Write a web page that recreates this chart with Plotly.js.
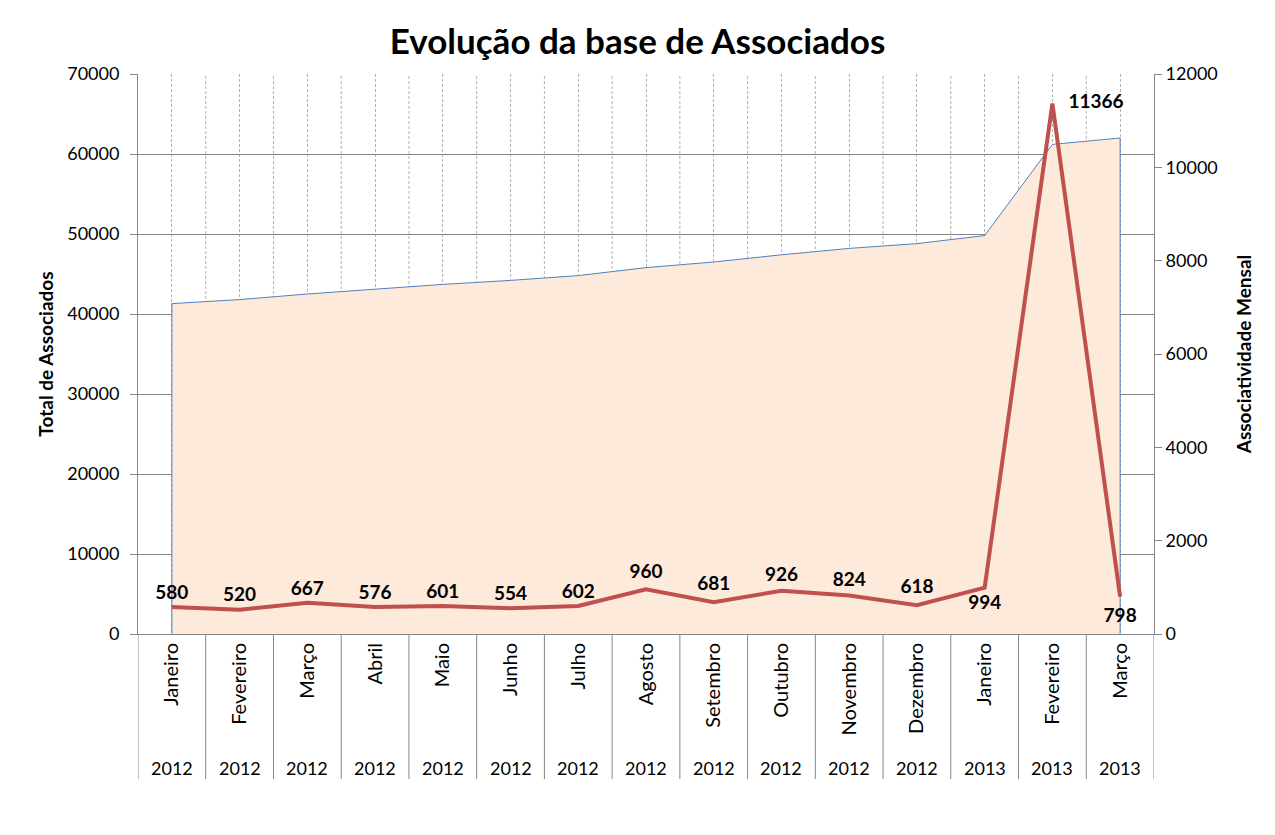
<!DOCTYPE html>
<html>
<head>
<meta charset="utf-8">
<script src="https://cdn.plot.ly/plotly-3.0.1.min.js"></script>
<style>
  body { margin: 0; background: #fff; }
  #chart { width: 1275px; height: 835px; }
</style>
</head>
<body>
<div id="chart"></div>
<script>
// Categories (month + year, two-row axis)
const months = ['Janeiro', 'Fevereiro', 'Março', 'Abril', 'Maio', 'Junho', 'Julho',
    'Agosto', 'Setembro', 'Outubro', 'Novembro', 'Dezembro', 'Janeiro', 'Fevereiro', 'Março'];
const years = ['2012', '2012', '2012', '2012', '2012', '2012', '2012',
    '2012', '2012', '2012', '2012', '2012', '2013', '2013', '2013'];

// Total de Associados (left axis, area)
const totalAssociados = [41300, 41800, 42500, 43100, 43700, 44200, 44800,
    45800, 46500, 47400, 48200, 48800, 49800, 61200, 62000];

// Associatividade Mensal (right axis, line)
const associatividadeMensal = [580, 520, 667, 576, 601, 554, 602,
    960, 681, 926, 824, 618, 994, 11366, 798];

// Where each data label sits relative to its point, and how far off (invisible marker size)
const labelPositions = ['top center', 'top center', 'top center', 'top center', 'top center',
    'top center', 'top center', 'top center', 'top center', 'top center', 'top center',
    'top center', 'bottom center', 'middle right', 'bottom center'];
const labelGaps = [4, 4, 4, 4, 4, 4, 4, 8, 10, 6, 6, 10, 10, 24, 16];

const FONT = 'Lato, "Open Sans", sans-serif';
const GRID = '#868686';

// Unique category keys, since month names repeat across years
const xKeys = months.map((m, i) => m + ' ' + years[i]);
const last = xKeys.length - 1;

// Closed polygon so the outline also draws the vertical edges
const area = {
    x: [xKeys[0]].concat(xKeys, [xKeys[last]]),
    y: [0].concat(totalAssociados, [0]),
    type: 'scatter',
    mode: 'lines',
    fill: 'toself',
    fillcolor: '#FDEADA',
    line: { color: '#4F81BD', width: 1 },
    hoverinfo: 'skip'
};

const monthly = {
    x: xKeys,
    y: associatividadeMensal,
    yaxis: 'y2',
    type: 'scatter',
    mode: 'lines+markers+text',
    marker: { size: labelGaps, color: 'rgba(0,0,0,0)', line: { width: 0, color: 'rgba(0,0,0,0)' } },
    text: associatividadeMensal.map(String),
    textposition: labelPositions,
    textfont: { family: FONT, size: 19, color: '#000', weight: 'bold' },
    line: { color: '#C0504D', width: 4 },
    cliponaxis: false
};

// Year labels under the month labels
const yearAnnotations = years.map((yr, i) => ({
    x: xKeys[i],
    xref: 'x',
    y: -0.239,
    yref: 'paper',
    yanchor: 'middle',
    text: yr,
    showarrow: false,
    font: { family: FONT, size: 18, color: '#000' }
}));

// Category dividers: dashed inside the plot, solid through the label table
let shapes = [];
for (let i = 0; i <= xKeys.length; i++) {
    shapes.push({
        type: 'line', xref: 'x', yref: 'paper',
        x0: i - 0.5, x1: i - 0.5, y0: -0.259, y1: 0,
        line: { color: GRID, width: 1 }
    });
    if (i > 0 && i < xKeys.length) {
        shapes.push({
            type: 'line', xref: 'x', yref: 'paper', layer: 'below',
            x0: i - 0.5, x1: i - 0.5, y0: 0, y1: 1,
            line: { color: '#b3b3b3', width: 1, dash: '3px,2px' }
        });
    }
}

const layout = {
    width: 1275,
    height: 835,
    font: { family: FONT, color: '#000' },
    paper_bgcolor: '#fff',
    plot_bgcolor: '#fff',
    showlegend: false,
    title: {
        text: 'Evolução da base de Associados',
        font: { family: FONT, size: 35, weight: 'bold', color: '#000' },
        x: 0.5,
        xref: 'container',
        y: 0.95,
        yanchor: 'middle'
    },
    margin: { l: 138, r: 121, t: 74, b: 201 },
    xaxis: {
        type: 'category',
        range: [-0.5, 14.5],
        tickvals: xKeys,
        ticktext: months,
        tickangle: -90,
        tickfont: { family: FONT, size: 20, color: '#000' },
        ticks: '',
        showgrid: true,
        gridcolor: '#b3b3b3',
        griddash: '3px,2px',
        gridwidth: 1,
        showline: true,
        linecolor: GRID,
        zeroline: false,
        fixedrange: true
    },
    yaxis: {
        range: [0, 70000],
        dtick: 10000,
        tickformat: 'd',
        showgrid: true,
        gridcolor: GRID,
        showline: true,
        linecolor: GRID,
        ticks: 'outside',
        ticklen: 7,
        tickcolor: GRID,
        ticklabelstandoff: 7,
        zeroline: false,
        tickfont: { family: FONT, size: 18, color: '#000' },
        title: {
            text: 'Total de Associados',
            font: { family: FONT, size: 19, weight: 'bold', color: '#000' },
            standoff: 8
        }
    },
    yaxis2: {
        overlaying: 'y',
        side: 'right',
        range: [0, 12000],
        dtick: 2000,
        tickformat: 'd',
        showgrid: false,
        showline: true,
        linecolor: GRID,
        ticks: 'outside',
        ticklen: 7,
        tickcolor: GRID,
        zeroline: false,
        tickfont: { family: FONT, size: 18, color: '#000' },
        title: {
            text: 'Associatividade Mensal',
            font: { family: FONT, size: 19, weight: 'bold', color: '#000' },
            standoff: 20
        }
    },
    annotations: yearAnnotations,
    shapes: shapes
};

Plotly.newPlot('chart', [area, monthly], layout, { displayModeBar: false, staticPlot: true });
</script>
</body>
</html>
